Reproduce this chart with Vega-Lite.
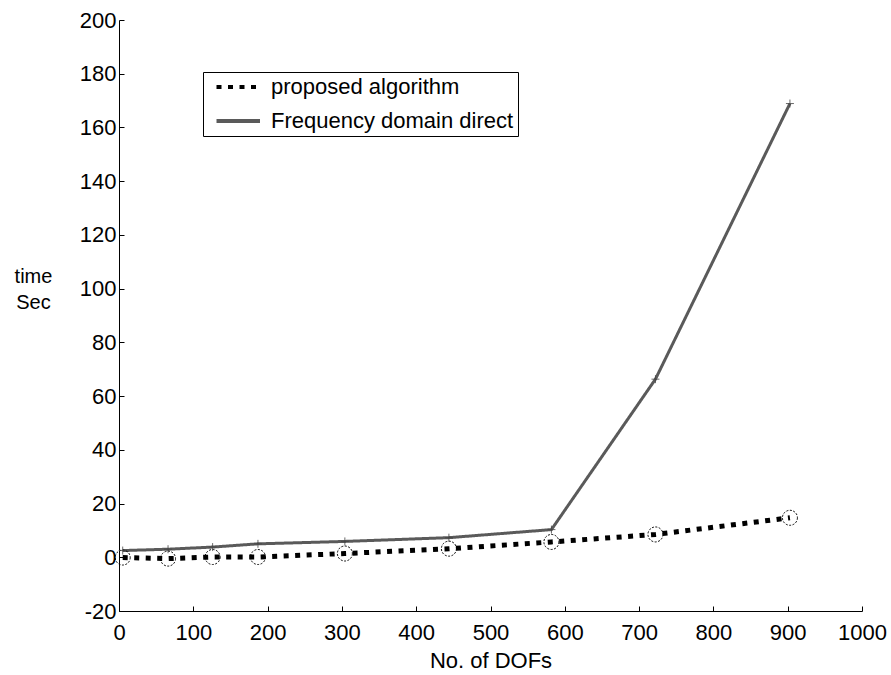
{
  "$schema": "https://vega.github.io/schema/vega-lite/v6.json",
  "autosize": {"type": "none"},
  "width": 743,
  "height": 591,
  "padding": {"left": 119, "top": 20, "right": 29, "bottom": 64},
  "background": "white",
  "config": {
    "view": {"stroke": null},
    "font": "Liberation Sans"
  },
  "data": {
    "values": [
      {"dof": 5, "time": -0.1, "series": "proposed algorithm"},
      {"dof": 66, "time": -0.5, "series": "proposed algorithm"},
      {"dof": 126, "time": 0.1, "series": "proposed algorithm"},
      {"dof": 187, "time": 0.1, "series": "proposed algorithm"},
      {"dof": 304, "time": 1.4, "series": "proposed algorithm"},
      {"dof": 444, "time": 3.2, "series": "proposed algorithm"},
      {"dof": 582, "time": 5.7, "series": "proposed algorithm"},
      {"dof": 722, "time": 8.5, "series": "proposed algorithm"},
      {"dof": 903, "time": 14.7, "series": "proposed algorithm"},
      {"dof": 5, "time": 2.5, "series": "Frequency domain direct"},
      {"dof": 66, "time": 3.0, "series": "Frequency domain direct"},
      {"dof": 126, "time": 3.8, "series": "Frequency domain direct"},
      {"dof": 187, "time": 5.0, "series": "Frequency domain direct"},
      {"dof": 304, "time": 5.9, "series": "Frequency domain direct"},
      {"dof": 444, "time": 7.3, "series": "Frequency domain direct"},
      {"dof": 582, "time": 10.3, "series": "Frequency domain direct"},
      {"dof": 722, "time": 66.3, "series": "Frequency domain direct"},
      {"dof": 903, "time": 168.9, "series": "Frequency domain direct"}
    ]
  },
  "encoding": {
    "x": {
      "field": "dof", "type": "quantitative",
      "scale": {"domain": [0, 1000], "nice": false, "zero": false},
      "axis": {
        "values": [0,100,200,300,400,500,600,700,800,900,1000],
        "labelExpr": "datum.value + ''",
        "title": "No. of DOFs",
        "grid": false,
        "domainColor": "black",
        "tickColor": "black",
        "tickSize": -5,
        "labelFont": "Liberation Sans",
        "labelFontSize": 22,
        "labelColor": "black",
        "labelPadding": 16,
        "labelFlush": false,
        "titleFont": "Liberation Sans",
        "titleFontSize": 22,
        "titleFontWeight": "normal",
        "titleColor": "black",
        "titlePadding": 7
      }
    },
    "y": {
      "field": "time", "type": "quantitative",
      "scale": {"domain": [-20, 200], "nice": false, "zero": false},
      "axis": {
        "values": [-20,0,20,40,60,80,100,120,140,160,180,200],
        "labelExpr": "datum.value + ''",
        "grid": false,
        "domainColor": "black",
        "tickColor": "black",
        "tickSize": -5,
        "labelFont": "Liberation Sans",
        "labelFontSize": 22,
        "labelColor": "black",
        "labelPadding": 8,
        "labelFlush": false,
        "title": ["time", "Sec"],
        "titleFont": "Liberation Sans",
        "titleFontSize": 20,
        "titleFontWeight": "normal",
        "titleColor": "black",
        "titleAngle": 0,
        "titleAlign": "center",
        "titleBaseline": "top",
        "titleX": -86,
        "titleY": 246,
        "titleLineHeight": 26
      }
    }
  },
  "layer": [
    {
      "transform": [{"filter": "datum.series === 'Frequency domain direct'"}],
      "mark": {"type": "line", "strokeWidth": 3},
      "encoding": {
        "color": {
          "field": "series", "type": "nominal",
          "scale": {"domain": ["proposed algorithm", "Frequency domain direct"], "range": ["black", "#5a5a5a"]},
          "legend": {
            "title": null,
            "orient": "none",
            "legendX": 84,
            "legendY": 52,
            "strokeColor": "black",
            "fillColor": "white",
            "padding": 4,
            "labelFontSize": 22,
            "labelFont": "Liberation Sans",
            "labelColor": "black",
            "labelLimit": 0,
            "labelOffset": 42,
            "rowPadding": 12,
            "symbolType": "M-0.2,0H5.6",
            "symbolSize": 225,
            "symbolStrokeWidth": 4
          }
        },
        "strokeDash": {
          "field": "series", "type": "nominal",
          "scale": {"domain": ["proposed algorithm", "Frequency domain direct"], "range": [[5, 6.5], [1, 0]]},
          "legend": null
        }
      }
    },
    {
      "transform": [{"filter": "datum.series === 'proposed algorithm'"}],
      "mark": {"type": "line", "strokeWidth": 5},
      "encoding": {
        "color": {"field": "series", "type": "nominal"},
        "strokeDash": {"field": "series", "type": "nominal", "legend": null}
      }
    },
    {
      "transform": [{"filter": "datum.series === 'proposed algorithm'"}],
      "mark": {"type": "point", "shape": "circle", "filled": false, "size": 225, "stroke": "black", "strokeWidth": 1, "strokeDash": [2, 1.5], "opacity": 1}
    },
    {
      "transform": [{"filter": "datum.series === 'Frequency domain direct'"}],
      "mark": {"type": "point", "shape": "M-1,0L1,0M0,-1L0,1", "filled": false, "size": 64, "stroke": "#444444", "strokeWidth": 0.8, "opacity": 1}
    }
  ]
}
